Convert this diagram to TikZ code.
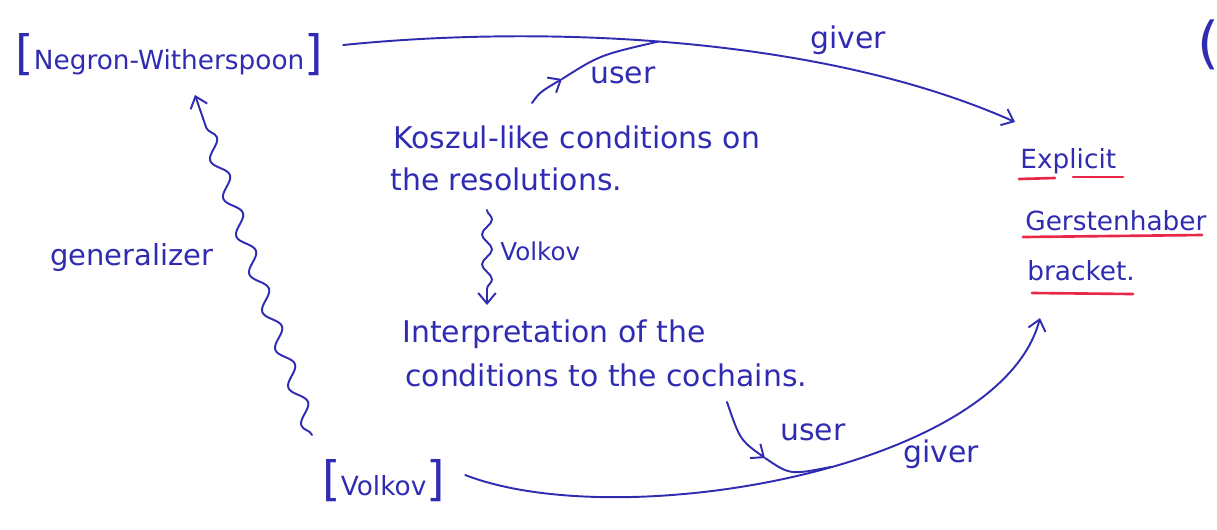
\documentclass[tikz,border=0pt]{standalone}
\usepackage{fontspec}
\setmainfont{DejaVu Sans}
\usetikzlibrary{arrows.meta,decorations.pathmorphing}
\definecolor{ink}{RGB}{48,44,178}
\definecolor{redink}{RGB}{232,40,70}
\newcommand\bigbr{\fontsize{27}{27}\selectfont}
\tikzset{
  txt/.style={text=ink, inner sep=0pt, anchor=base west, font=\fontsize{17}{20}\selectfont},
  rtxt/.style={txt, font=\fontsize{15}{18}\selectfont},
  lbl/.style={txt, font=\fontsize{17}{19}\selectfont},
  conn/.style={draw=ink, line width=1.1pt, line cap=round, -{Straight Barb[length=6pt,width=10pt,line width=1.1pt]}},
  plainconn/.style={draw=ink, line width=1.1pt, line cap=round},
  uline/.style={draw=redink, line width=1.5pt, line cap=round}
}
\begin{document}
\begin{tikzpicture}[x=0.02cm,y=-0.02cm]
\useasboundingbox (0,0) rectangle (1217,529);

% main texts
\node[rtxt] (nw) at (15,69) {{\bigbr[}Negron-Witherspoon{\bigbr]}};
\node[txt] (k1) at (393,148) {Koszul-like conditions on};
\node[txt] (k2) at (390,190) {the resolutions.};
\node[txt] (i1) at (402,342) {Interpretation of the};
\node[txt] (i2) at (405,386) {conditions to the cochains.};
\node[rtxt] (vk) at (322,495) {{\bigbr[}Volkov{\bigbr]}};
\node[rtxt] (ex1) at (1020,168) {Explicit};
\node[rtxt] (ex2) at (1025,230) {Gerstenhaber};
\node[rtxt] (ex3) at (1027,280) {bracket.};
\node[txt, font=\fontsize{32}{32}\selectfont] (paren) at (1197,62) {(};

% red underlines
\draw[uline] (1019,179) -- (1055,178);
\draw[uline] (1073,177) -- (1123,177);
\draw[uline] (1023,237) -- (1202,235);
\draw[uline] (1032,293) -- (1133,294);

% top giver arrow
\draw[conn] ([shift={(20,-24)}]nw.base east) .. controls (540,25) and (820,35) .. ([shift={(-5,-46)}]ex1.base west)
  coordinate[pos=0.47] (m1);
\node[lbl] (g1) at (810,48) {giver};

% top user arrow
\coordinate (u1) at (562,79);
\draw[conn] ([shift={(139,-45)}]k1.base west) .. controls (540,92) .. (u1);
\draw[plainconn] (u1) .. controls (600,55) .. (m1);
\node[lbl] (us1) at (590,83) {user};

% middle Volkov squiggle
\draw[conn, decorate, decoration={snake, amplitude=0.1cm, segment length=0.6cm, post length=8pt}]
  ([shift={(97,20)}]k2.base west) -- ([shift={(85,-37)}]i1.base west);
\node[rtxt, font=\fontsize{14}{16}\selectfont] (vm) at (500,260) {Volkov};

% generalizer wavy arrow
\draw[conn, decorate, decoration={snake, amplitude=0.14cm, segment length=0.8cm, post length=10pt}]
  ([shift={(-10,-60)}]vk.base west) -- ([shift={(180,26)}]nw.base west);
\node[lbl, font=\fontsize{16.5}{19}\selectfont] (gen) at (50,265) {generalizer};

% bottom giver arrow
\draw[conn] ([shift={(20,-20)}]vk.base east) .. controls (620,535) and (1000,470) .. ([shift={(13,38)}]ex3.base west)
  coordinate[pos=0.55] (m2);
\node[lbl] (g2) at (903,462) {giver};

% bottom user arrow
\coordinate (u2) at (765,458);
\draw[conn] ([shift={(322,16)}]i2.base west) .. controls (740,440) .. (u2);
\draw[plainconn] (u2) .. controls (790,475) .. (m2);
\node[lbl] (us2) at (780,440) {user};
\end{tikzpicture}
\end{document}
